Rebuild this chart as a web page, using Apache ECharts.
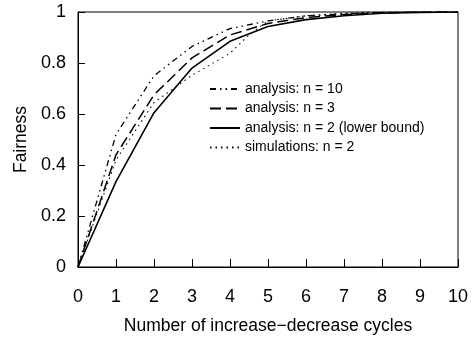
<!DOCTYPE html>
<html>
<head>
<meta charset="utf-8">
<script src="https://cdn.jsdelivr.net/npm/echarts@6/dist/echarts.min.js"></script>
<style>
html, body { margin: 0; padding: 0; background: #fff; }
#chart { width: 474px; height: 345px; }
</style>
</head>
<body>
<div id="chart"></div>
<script>
// cycles 0..10 (analysis curves sampled at whole cycles)
const cycles = [0, 1, 2, 3, 4, 5, 6, 7, 8, 9, 10];
const n10 = [0, 0.52, 0.75, 0.865, 0.935, 0.965, 0.985, 0.993, 0.998, 1, 1];
const n3 = [0, 0.44, 0.675, 0.82, 0.91, 0.955, 0.978, 0.99, 0.997, 1, 1];
const n2 = [0, 0.335, 0.605, 0.78, 0.885, 0.943, 0.97, 0.985, 0.995, 0.998, 1];
// simulation points (x, fairness)
const simX = [0, 1, 2, 3, 4, 4.5, 5, 6, 7, 8, 9, 10];
const simY = [0, 0.42, 0.645, 0.752, 0.838, 0.91, 0.965, 0.985, 0.995, 1, 1, 1];
const names = ['analysis: n = 10', 'analysis: n = 3', 'analysis: n = 2 (lower bound)', 'simulations: n = 2'];
const yTicks = ['0', '0.2', '0.4', '0.6', '0.8', '1'];

const FONT = '"Liberation Sans", Arial, sans-serif';
const pair = (xs, ys) => xs.map((x, i) => [x, ys[i]]);

function line(name, data, width, type) {
  return {
    name: name, type: 'line', data: data, symbol: 'none', silent: true,
    lineStyle: { color: '#000', width: width, type: type },
    itemStyle: { color: '#000' }
  };
}

const chart = echarts.init(document.getElementById('chart'), null, { renderer: 'canvas' });
chart.setOption({
  animation: false,
  backgroundColor: '#fff',
  textStyle: { fontFamily: FONT, color: '#000' },
  grid: { left: 78, right: 16, top: 12, bottom: 78, show: true, borderColor: '#000', borderWidth: 1 },
  legend: {
    orient: 'vertical', left: 204, top: 77,
    itemWidth: 30, itemHeight: 14, itemGap: 5.5,
    itemStyle: { opacity: 0 },
    textStyle: { fontFamily: FONT, fontSize: 14, color: '#000' },
    data: names
  },
  xAxis: {
    type: 'value', min: 0, max: 10, interval: 1,
    name: 'Number of increase\u2212decrease cycles', nameLocation: 'middle', nameGap: 50,
    nameTextStyle: { fontFamily: FONT, fontSize: 17.5, color: '#000' },
    axisLine: { lineStyle: { color: '#000', width: 1 } },
    axisTick: { inside: true, length: 8, lineStyle: { color: '#000' } },
    axisLabel: { fontFamily: FONT, fontSize: 18, color: '#000', margin: 21 },
    splitLine: { show: false }
  },
  yAxis: {
    type: 'value', min: 0, max: 1, interval: 0.2,
    name: 'Fairness', nameLocation: 'middle', nameGap: 45,
    nameTextStyle: { fontFamily: FONT, fontSize: 17.5, color: '#000' },
    axisLine: { show: true, lineStyle: { color: '#000', width: 1 } },
    axisTick: { show: true, inside: true, length: 7, lineStyle: { color: '#000' } },
    axisLabel: {
      fontFamily: FONT, fontSize: 18, color: '#000', margin: 12,
      formatter: v => yTicks[Math.round(v * 5)]
    },
    splitLine: { show: false }
  },
  series: [
    line(names[0], pair(cycles, n10), 1.3, [6, 4, 1.5, 4, 1.5, 4]),
    line(names[1], pair(cycles, n3), 1.5, [11, 5]),
    line(names[2], pair(cycles, n2), 1.6, 'solid'),
    line(names[3], pair(simX, simY), 1.1, [1.5, 4])
  ]
});
</script>
</body>
</html>
